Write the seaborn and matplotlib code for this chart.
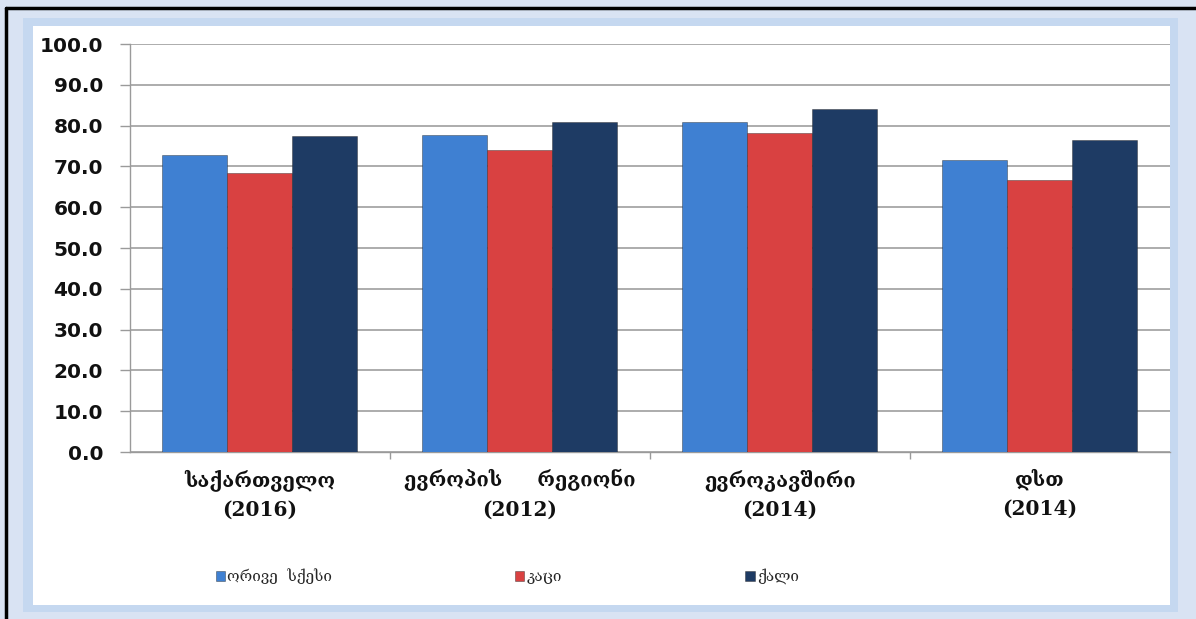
import numpy as np
import pandas as pd
import matplotlib
matplotlib.use("Agg")
import matplotlib.pyplot as plt
from matplotlib.patches import Rectangle
import seaborn as sns

# data
regions = ["საქართველო\n(2016)", "ევროპის     რეგიონი\n(2012)",
           "ევროკავშირი\n(2014)", "დსთ\n(2014)"]
series = ["ორივე  სქესი", "კაცი", "ქალი"]
both = [72.9, 77.6, 81.0, 71.5]
men = [68.3, 74.0, 78.1, 66.6]
women = [77.5, 81.0, 84.1, 76.4]
colors = ["#3F80D2", "#D94141", "#1E3B64"]
yticks = np.arange(0, 101, 10)

df = pd.DataFrame({
    "region": regions * 3,
    "sex": [series[0]] * 4 + [series[1]] * 4 + [series[2]] * 4,
    "value": both + men + women,
})

sns.set_style("white")
fig = plt.figure(figsize=(11.96, 6.19), dpi=100)

# frame: black edge, light blue border, darker blue band, white panel
W, H = 1196, 619
fig.patches.append(Rectangle((0, 0), 1, 1, transform=fig.transFigure,
                             facecolor="#D9E3F3", edgecolor="none", zorder=-3))
fig.patches.append(Rectangle((23 / W, 7 / H), (1178 - 23) / W, (601 - 7) / H,
                             transform=fig.transFigure, facecolor="#C5D8F0",
                             edgecolor="none", zorder=-2))
fig.patches.append(Rectangle((33 / W, 14 / H), (1170 - 33) / W, (593 - 14) / H,
                             transform=fig.transFigure, facecolor="white",
                             edgecolor="none", zorder=-1))
fig.lines.append(plt.Line2D([6 / W, 6 / W], [0, 1 - 8 / H], transform=fig.transFigure,
                            color="black", lw=2.5))
fig.lines.append(plt.Line2D([6 / W, 1], [1 - 8 / H, 1 - 8 / H], transform=fig.transFigure,
                            color="black", lw=2.5))

ax = fig.add_axes([129.5 / W, (619 - 452) / H, (1170 - 129.5) / W, (452 - 44) / H])
ax.set_facecolor("none")

sns.barplot(data=df, x="region", y="value", hue="sex", palette=colors,
            saturation=1, width=0.75, gap=0, edgecolor="#22222266", linewidth=0.7,
            ax=ax, zorder=3)

ax.set_ylim(0, 100)
ax.set_xlim(-0.5, 3.5)
ax.set_yticks(yticks)
ax.set_yticklabels([f"{v:.1f}" for v in yticks])
ax.yaxis.grid(True, color="#A6A6A6", linewidth=1.3, zorder=0)
ax.set_axisbelow(True)
ax.set_xlabel("")
ax.set_ylabel("")

for s in ["top", "right"]:
    ax.spines[s].set_visible(False)
for s in ["left", "bottom"]:
    ax.spines[s].set_color("#9A9A9A")
    ax.spines[s].set_linewidth(1.0)

ax.tick_params(axis="y", length=7, width=1, color="#9A9A9A", pad=12,
               labelsize=14.5, left=True)
for lab in ax.get_yticklabels():
    lab.set_fontfamily("DejaVu Sans")
    lab.set_fontweight("bold")
    lab.set_color("#111111")

ax.set_xticks([0.5, 1.5, 2.5], minor=True)
ax.tick_params(axis="x", which="minor", length=5, width=1, color="#9A9A9A", bottom=True)
ax.tick_params(axis="x", which="major", length=0, pad=12, labelsize=14.5)
for lab in ax.get_xticklabels():
    lab.set_fontfamily("DejaVu Serif")
    lab.set_fontweight("bold")
    lab.set_linespacing(1.55)
    lab.set_color("#111111")

handles, labels = ax.get_legend_handles_labels()
ax.legend(handles, labels, loc="center", bbox_to_anchor=(0.363, -0.305),
          ncol=3, frameon=False, handlelength=0.6, handleheight=0.6,
          handletextpad=0.15, columnspacing=12.0,
          prop={"family": "DejaVu Serif", "size": 11})

fig.savefig("out.png", dpi=100)
